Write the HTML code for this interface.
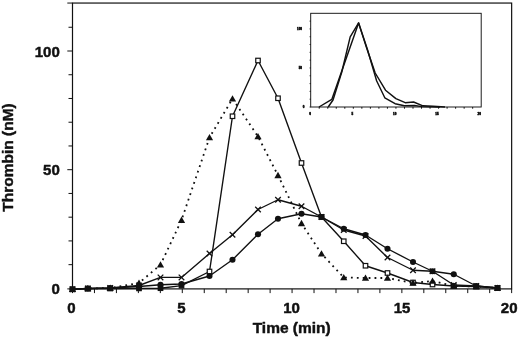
<!DOCTYPE html>
<html lang="en"><head><meta charset="utf-8"><title>Thrombin generation</title>
<style>html,body{margin:0;padding:0;background:#fff}svg{display:block}</style></head>
<body>
<svg width="520" height="337" viewBox="0 0 520 337">
<rect width="520" height="337" fill="#fff"/>
<g stroke="#111" stroke-width="1.2" fill="none">
<rect x="72.5" y="3.05" width="439.15" height="285.84999999999997"/>
<line x1="67.30" y1="288.90" x2="72.5" y2="288.90" stroke-width="1"/>
<line x1="68.50" y1="264.66" x2="72.5" y2="264.66" stroke-width="1"/>
<line x1="68.50" y1="240.92" x2="72.5" y2="240.92" stroke-width="1"/>
<line x1="68.50" y1="217.18" x2="72.5" y2="217.18" stroke-width="1"/>
<line x1="68.50" y1="193.44" x2="72.5" y2="193.44" stroke-width="1"/>
<line x1="67.30" y1="169.70" x2="72.5" y2="169.70" stroke-width="1"/>
<line x1="68.50" y1="145.96" x2="72.5" y2="145.96" stroke-width="1"/>
<line x1="68.50" y1="122.22" x2="72.5" y2="122.22" stroke-width="1"/>
<line x1="68.50" y1="98.48" x2="72.5" y2="98.48" stroke-width="1"/>
<line x1="68.50" y1="74.74" x2="72.5" y2="74.74" stroke-width="1"/>
<line x1="67.30" y1="51.00" x2="72.5" y2="51.00" stroke-width="1"/>
<line x1="68.50" y1="27.26" x2="72.5" y2="27.26" stroke-width="1"/>
<line x1="67.30" y1="3.05" x2="72.5" y2="3.05" stroke-width="1"/>
<line x1="72.50" y1="288.9" x2="72.50" y2="293.09999999999997" stroke-width="1"/>
<line x1="94.46" y1="288.9" x2="94.46" y2="293.09999999999997" stroke-width="1"/>
<line x1="116.41" y1="288.9" x2="116.41" y2="293.09999999999997" stroke-width="1"/>
<line x1="138.37" y1="288.9" x2="138.37" y2="293.09999999999997" stroke-width="1"/>
<line x1="160.33" y1="288.9" x2="160.33" y2="293.09999999999997" stroke-width="1"/>
<line x1="182.29" y1="288.9" x2="182.29" y2="293.09999999999997" stroke-width="1"/>
<line x1="204.25" y1="288.9" x2="204.25" y2="293.09999999999997" stroke-width="1"/>
<line x1="226.20" y1="288.9" x2="226.20" y2="293.09999999999997" stroke-width="1"/>
<line x1="248.16" y1="288.9" x2="248.16" y2="293.09999999999997" stroke-width="1"/>
<line x1="270.12" y1="288.9" x2="270.12" y2="293.09999999999997" stroke-width="1"/>
<line x1="292.07" y1="288.9" x2="292.07" y2="293.09999999999997" stroke-width="1"/>
<line x1="314.03" y1="288.9" x2="314.03" y2="293.09999999999997" stroke-width="1"/>
<line x1="335.99" y1="288.9" x2="335.99" y2="293.09999999999997" stroke-width="1"/>
<line x1="357.95" y1="288.9" x2="357.95" y2="293.09999999999997" stroke-width="1"/>
<line x1="379.90" y1="288.9" x2="379.90" y2="293.09999999999997" stroke-width="1"/>
<line x1="401.86" y1="288.9" x2="401.86" y2="293.09999999999997" stroke-width="1"/>
<line x1="423.82" y1="288.9" x2="423.82" y2="293.09999999999997" stroke-width="1"/>
<line x1="445.78" y1="288.9" x2="445.78" y2="293.09999999999997" stroke-width="1"/>
<line x1="467.74" y1="288.9" x2="467.74" y2="293.09999999999997" stroke-width="1"/>
<line x1="489.69" y1="288.9" x2="489.69" y2="293.09999999999997" stroke-width="1"/>
<line x1="511.65" y1="288.9" x2="511.65" y2="293.09999999999997" stroke-width="1"/>
</g>
<g font-family="'Liberation Sans', Arial, sans-serif" font-weight="700" font-size="15" fill="#111" stroke="#111" stroke-width="0.45" stroke-linejoin="round">
<text x="59.8" y="294.40" text-anchor="end">0</text>
<text x="59.8" y="175.45" text-anchor="end">50</text>
<text x="59.8" y="56.50" text-anchor="end">100</text>
<text x="71.50" y="312.9" text-anchor="middle">0</text>
<text x="181.50" y="312.9" text-anchor="middle">5</text>
<text x="291.50" y="312.9" text-anchor="middle">10</text>
<text x="402.00" y="312.9" text-anchor="middle">15</text>
<text x="509.20" y="312.9" text-anchor="middle">20</text>
<text x="291.7" y="332.6" text-anchor="middle" font-size="15.5">Time (min)</text>
<text transform="translate(13.2,157.5) rotate(-90)" text-anchor="middle" font-size="15.5">Thrombin (nM)</text>
</g>
<g fill="none" stroke="#111" stroke-width="1.38" stroke-linejoin="round">
<polyline points="72.50,289.30 87.80,288.60 110.20,288.50 139.00,288.40 160.50,288.20 181.50,285.60 209.50,271.50 232.50,116.25 258.00,60.50 278.00,98.25 301.50,163.00 321.50,217.00 343.75,241.25 365.50,265.75 387.50,273.00 413.00,282.50 432.50,284.50 453.75,286.00 476.25,286.50 497.50,288.00"/>
</g>
<g stroke="#111" stroke-width="1.2" fill="#fff">
<rect x="70.25" y="287.05" width="4.5" height="4.5" fill="#111"/>
<rect x="85.55" y="286.35" width="4.5" height="4.5" fill="#111"/>
<rect x="107.95" y="286.25" width="4.5" height="4.5" fill="#111"/>
<rect x="136.75" y="286.15" width="4.5" height="4.5" fill="#111"/>
<rect x="158.25" y="285.95" width="4.5" height="4.5" fill="#111"/>
<rect x="179.25" y="283.35" width="4.5" height="4.5" fill="#111"/>
<rect x="207.25" y="269.25" width="4.5" height="4.5"/>
<rect x="230.25" y="114.00" width="4.5" height="4.5"/>
<rect x="255.75" y="58.25" width="4.5" height="4.5"/>
<rect x="275.75" y="96.00" width="4.5" height="4.5"/>
<rect x="299.25" y="160.75" width="4.5" height="4.5"/>
<rect x="319.25" y="214.75" width="4.5" height="4.5"/>
<rect x="341.50" y="239.00" width="4.5" height="4.5"/>
<rect x="363.25" y="263.50" width="4.5" height="4.5"/>
<rect x="385.25" y="270.75" width="4.5" height="4.5"/>
<rect x="410.75" y="280.25" width="4.5" height="4.5"/>
<rect x="430.25" y="282.25" width="4.5" height="4.5"/>
<rect x="451.50" y="283.75" width="4.5" height="4.5"/>
<rect x="474.00" y="284.25" width="4.5" height="4.5"/>
<rect x="495.25" y="285.75" width="4.5" height="4.5"/>
</g>
<g fill="none" stroke="#111" stroke-width="1.38" stroke-linejoin="round">
<polyline points="72.50,289.30 87.80,288.50 110.20,288.00 139.00,283.00 160.50,264.75 181.50,220.20 209.50,137.50 232.50,98.75 258.00,136.50 278.00,175.40 301.50,223.40 321.50,253.75 343.75,277.50 365.50,278.00 387.50,278.00 413.00,283.00 432.50,281.00 453.75,286.00 476.25,286.50 497.50,288.00" stroke-dasharray="1.8 4.1" stroke-width="1.8"/>
<polyline points="72.50,289.30 87.80,288.50 110.20,288.00 139.00,285.50 160.50,277.40 181.50,277.40 209.50,253.50 232.50,234.75 258.00,209.50 278.00,199.75 301.50,206.25 321.50,217.00 343.75,230.00 365.50,236.00 387.50,257.50 413.00,270.25 432.50,271.25 453.75,285.00 476.25,286.00 497.50,288.00"/>
<polyline points="72.50,289.30 87.80,288.50 110.20,288.00 139.00,286.50 160.50,284.75 181.50,284.00 209.50,276.00 232.50,259.75 258.00,234.25 278.00,218.75 301.50,213.75 321.50,217.00 343.75,228.75 365.50,235.00 387.50,248.75 413.00,262.00 432.50,271.25 453.75,274.25 476.25,286.00 497.50,288.00"/>
</g>
<g fill="#111">
<path d="M68.90 292.10L76.10 292.10L72.50 285.70Z"/>
<path d="M84.20 291.30L91.40 291.30L87.80 284.90Z"/>
<path d="M106.60 290.80L113.80 290.80L110.20 284.40Z"/>
<path d="M135.40 285.80L142.60 285.80L139.00 279.40Z"/>
<path d="M156.90 267.55L164.10 267.55L160.50 261.15Z"/>
<path d="M177.90 223.00L185.10 223.00L181.50 216.60Z"/>
<path d="M205.90 140.30L213.10 140.30L209.50 133.90Z"/>
<path d="M228.90 101.55L236.10 101.55L232.50 95.15Z"/>
<path d="M254.40 139.30L261.60 139.30L258.00 132.90Z"/>
<path d="M274.40 178.20L281.60 178.20L278.00 171.80Z"/>
<path d="M297.90 226.20L305.10 226.20L301.50 219.80Z"/>
<path d="M317.90 256.55L325.10 256.55L321.50 250.15Z"/>
<path d="M340.15 280.30L347.35 280.30L343.75 273.90Z"/>
<path d="M361.90 280.80L369.10 280.80L365.50 274.40Z"/>
<path d="M383.90 280.80L391.10 280.80L387.50 274.40Z"/>
<path d="M409.40 285.80L416.60 285.80L413.00 279.40Z"/>
<path d="M428.90 283.80L436.10 283.80L432.50 277.40Z"/>
<path d="M450.15 288.80L457.35 288.80L453.75 282.40Z"/>
<path d="M472.65 289.30L479.85 289.30L476.25 282.90Z"/>
<path d="M493.90 290.80L501.10 290.80L497.50 284.40Z"/>
</g>
<g fill="none" stroke="#111" stroke-width="1.25">
<path d="M69.70 286.50L75.30 292.10M69.70 292.10L75.30 286.50"/>
<path d="M85.00 285.70L90.60 291.30M85.00 291.30L90.60 285.70"/>
<path d="M107.40 285.20L113.00 290.80M107.40 290.80L113.00 285.20"/>
<path d="M136.20 282.70L141.80 288.30M136.20 288.30L141.80 282.70"/>
<path d="M157.70 274.60L163.30 280.20M157.70 280.20L163.30 274.60"/>
<path d="M178.70 274.60L184.30 280.20M178.70 280.20L184.30 274.60"/>
<path d="M206.70 250.70L212.30 256.30M206.70 256.30L212.30 250.70"/>
<path d="M229.70 231.95L235.30 237.55M229.70 237.55L235.30 231.95"/>
<path d="M255.20 206.70L260.80 212.30M255.20 212.30L260.80 206.70"/>
<path d="M275.20 196.95L280.80 202.55M275.20 202.55L280.80 196.95"/>
<path d="M298.70 203.45L304.30 209.05M298.70 209.05L304.30 203.45"/>
<path d="M318.70 214.20L324.30 219.80M318.70 219.80L324.30 214.20"/>
<path d="M340.95 227.20L346.55 232.80M340.95 232.80L346.55 227.20"/>
<path d="M362.70 233.20L368.30 238.80M362.70 238.80L368.30 233.20"/>
<path d="M384.70 254.70L390.30 260.30M384.70 260.30L390.30 254.70"/>
<path d="M410.20 267.45L415.80 273.05M410.20 273.05L415.80 267.45"/>
<path d="M429.70 268.45L435.30 274.05M429.70 274.05L435.30 268.45"/>
<path d="M450.95 282.20L456.55 287.80M450.95 287.80L456.55 282.20"/>
<path d="M473.45 283.20L479.05 288.80M473.45 288.80L479.05 283.20"/>
<path d="M494.70 285.20L500.30 290.80M494.70 290.80L500.30 285.20"/>
</g>
<g fill="#111">
<circle cx="72.50" cy="289.30" r="3.05"/>
<circle cx="87.80" cy="288.50" r="3.05"/>
<circle cx="110.20" cy="288.00" r="3.05"/>
<circle cx="139.00" cy="286.50" r="3.05"/>
<circle cx="160.50" cy="284.75" r="3.05"/>
<circle cx="181.50" cy="284.00" r="3.05"/>
<circle cx="209.50" cy="276.00" r="3.05"/>
<circle cx="232.50" cy="259.75" r="3.05"/>
<circle cx="258.00" cy="234.25" r="3.05"/>
<circle cx="278.00" cy="218.75" r="3.05"/>
<circle cx="301.50" cy="213.75" r="3.05"/>
<circle cx="321.50" cy="217.00" r="3.05"/>
<circle cx="343.75" cy="228.75" r="3.05"/>
<circle cx="365.50" cy="235.00" r="3.05"/>
<circle cx="387.50" cy="248.75" r="3.05"/>
<circle cx="413.00" cy="262.00" r="3.05"/>
<circle cx="432.50" cy="271.25" r="3.05"/>
<circle cx="453.75" cy="274.25" r="3.05"/>
<circle cx="476.25" cy="286.00" r="3.05"/>
<circle cx="497.50" cy="288.00" r="3.05"/>
</g>
<g stroke="#111" fill="none">
<rect x="310.7" y="13.3" width="170.5" height="93.7" stroke-width="0.95"/>
<line x1="319.22" y1="107.0" x2="319.22" y2="108.7" stroke-width="1"/>
<line x1="327.75" y1="107.0" x2="327.75" y2="108.7" stroke-width="1"/>
<line x1="336.27" y1="107.0" x2="336.27" y2="108.7" stroke-width="1"/>
<line x1="344.80" y1="107.0" x2="344.80" y2="108.7" stroke-width="1"/>
<line x1="353.32" y1="107.0" x2="353.32" y2="108.7" stroke-width="1"/>
<line x1="361.85" y1="107.0" x2="361.85" y2="108.7" stroke-width="1"/>
<line x1="370.38" y1="107.0" x2="370.38" y2="108.7" stroke-width="1"/>
<line x1="378.90" y1="107.0" x2="378.90" y2="108.7" stroke-width="1"/>
<line x1="387.43" y1="107.0" x2="387.43" y2="108.7" stroke-width="1"/>
<line x1="395.95" y1="107.0" x2="395.95" y2="108.7" stroke-width="1"/>
<line x1="404.48" y1="107.0" x2="404.48" y2="108.7" stroke-width="1"/>
<line x1="413.00" y1="107.0" x2="413.00" y2="108.7" stroke-width="1"/>
<line x1="421.52" y1="107.0" x2="421.52" y2="108.7" stroke-width="1"/>
<line x1="430.05" y1="107.0" x2="430.05" y2="108.7" stroke-width="1"/>
<line x1="438.57" y1="107.0" x2="438.57" y2="108.7" stroke-width="1"/>
<line x1="447.10" y1="107.0" x2="447.10" y2="108.7" stroke-width="1"/>
<line x1="455.62" y1="107.0" x2="455.62" y2="108.7" stroke-width="1"/>
<line x1="464.15" y1="107.0" x2="464.15" y2="108.7" stroke-width="1"/>
<line x1="472.67" y1="107.0" x2="472.67" y2="108.7" stroke-width="1"/>
<line x1="309.59999999999997" y1="107.00" x2="310.7" y2="107.00" stroke-width="0.9"/>
<line x1="309.59999999999997" y1="99.19" x2="310.7" y2="99.19" stroke-width="0.9"/>
<line x1="309.59999999999997" y1="91.38" x2="310.7" y2="91.38" stroke-width="0.9"/>
<line x1="309.59999999999997" y1="83.58" x2="310.7" y2="83.58" stroke-width="0.9"/>
<line x1="309.59999999999997" y1="75.77" x2="310.7" y2="75.77" stroke-width="0.9"/>
<line x1="309.59999999999997" y1="67.96" x2="310.7" y2="67.96" stroke-width="0.9"/>
<line x1="309.59999999999997" y1="60.15" x2="310.7" y2="60.15" stroke-width="0.9"/>
<line x1="309.59999999999997" y1="52.34" x2="310.7" y2="52.34" stroke-width="0.9"/>
<line x1="309.59999999999997" y1="44.53" x2="310.7" y2="44.53" stroke-width="0.9"/>
<line x1="309.59999999999997" y1="36.72" x2="310.7" y2="36.72" stroke-width="0.9"/>
<line x1="309.59999999999997" y1="28.92" x2="310.7" y2="28.92" stroke-width="0.9"/>
<line x1="309.59999999999997" y1="21.11" x2="310.7" y2="21.11" stroke-width="0.9"/>
<polyline stroke-width="1.45" stroke-linejoin="round" points="319,107 331.8,99.4 340.3,75.2 358.6,22.9 367,49 375.2,73 385.5,90.2 395.9,98.6 405.2,102.7 413.6,102 422.9,105.8 433,106.3 445,107"/>
<polyline stroke-width="1.45" stroke-linejoin="round" points="328.2,107 333,100 341.8,72 350.2,36.8 358.6,22.9 367.6,50 376.6,80.8 384.8,97.8 395.1,103.7 404.4,105.8 414.4,105.5 422,106.6 440,107"/>
</g>
<g font-family="'Liberation Sans', Arial, sans-serif" font-weight="700" font-size="3" fill="#111" stroke="#111" stroke-width="0.5" text-anchor="middle">
<text x="310.20" y="114.8">0</text>
<text x="352.45" y="114.8">5</text>
<text x="394.70" y="114.8">10</text>
<text x="436.95" y="114.8">15</text>
<text x="479.20" y="114.8">20</text>
<text x="303.5" y="108.10">0</text>
<text x="300.3" y="69.06">50</text>
<text x="299.5" y="30.02">100</text>
</g>
</svg>
</body></html>
